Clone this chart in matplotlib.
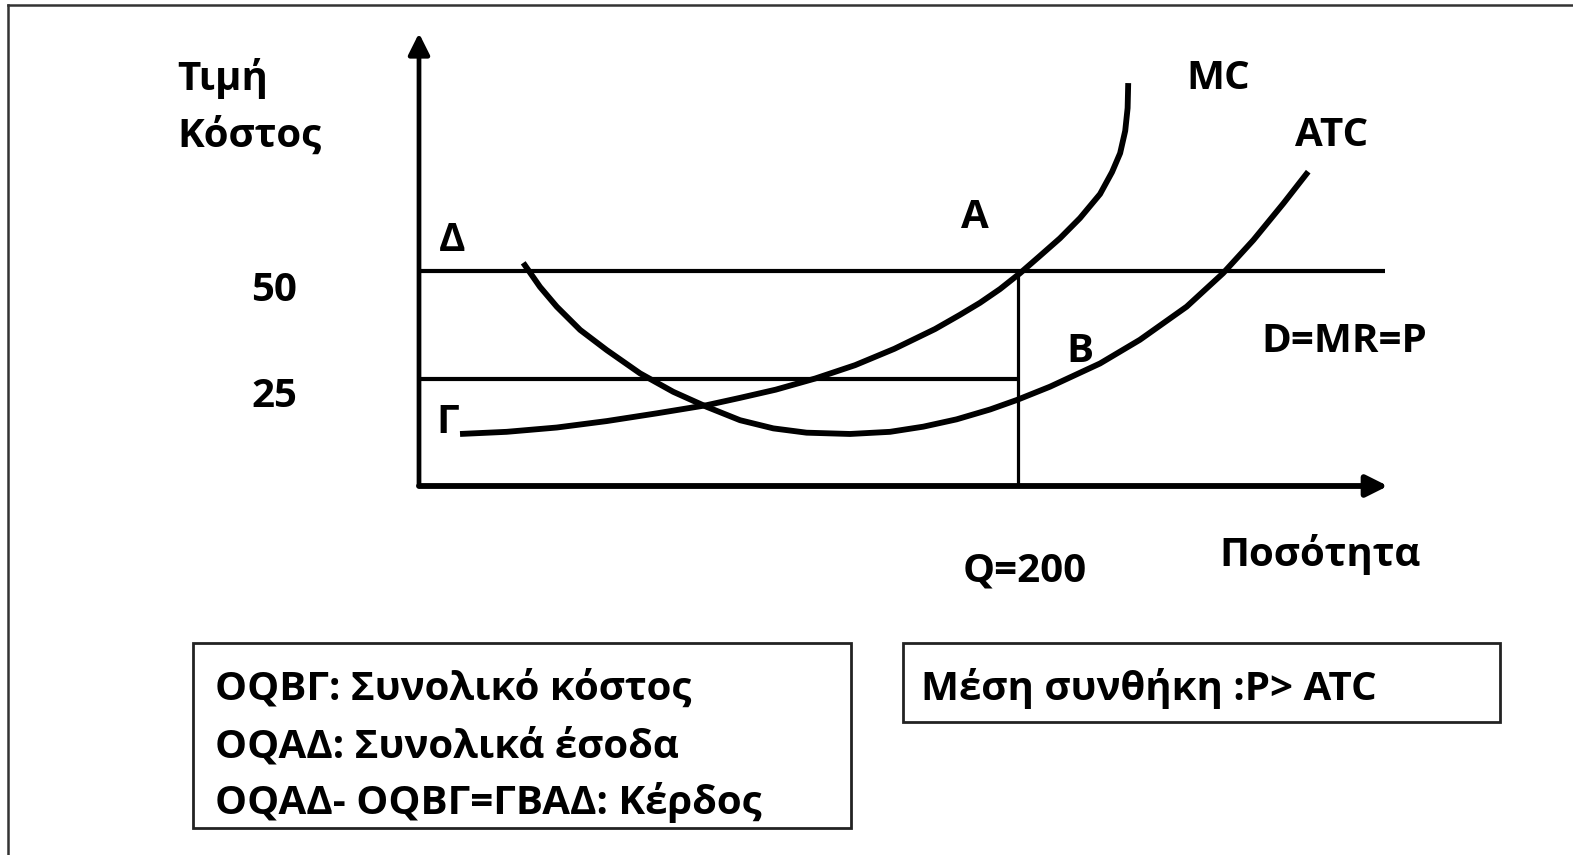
import matplotlib.pyplot as plt
from matplotlib.patches import Rectangle

# ποσότητα και κόστος όπως διαβάζονται από το σχήμα
mc_q = [13.7, 29.3, 46.0, 62.7, 79.4, 96.1, 107.2, 119.1, 132.3, 145.6, 158.7, 172.3, 180.6,
        187.3, 194.0, 200.7, 207.3, 214.0, 220.7, 227.4, 231.4, 234.1, 235.8, 236.6, 236.8]
mc_p = [12.1, 12.6, 13.6, 15.1, 16.9, 18.8, 20.5, 22.4, 25.0, 28.1, 31.9, 36.5, 39.8,
        42.6, 45.8, 49.5, 53.5, 57.6, 62.3, 67.9, 73.0, 77.4, 82.6, 87.9, 93.7]

atc_q = [34.8, 40.4, 46.0, 53.8, 62.7, 73.8, 84.9, 96.1, 107.2, 118.3, 129.4, 143.9, 157.3,
         168.4, 179.5, 190.7, 199.6, 210.7, 227.4, 240.7, 256.3, 268.5, 278.6, 288.6, 296.9]
atc_p = [51.9, 46.3, 41.7, 36.3, 31.6, 26.2, 21.9, 18.4, 15.3, 13.4, 12.4, 12.1, 12.6,
         13.8, 15.5, 17.8, 20.0, 23.1, 28.5, 34.0, 41.7, 49.5, 57.2, 65.7, 73.1]

price = 50
cost = 25
q_star = 200
q_max = 323.5
p_max = 105.3

font = ['Open Sans', 'DejaVu Sans']
fs = 29

fig = plt.figure(figsize=(15.73, 8.55), dpi=100)

# κύριοι άξονες: αρχή των αξόνων στο (419, 486) px
ax = fig.add_axes([0, 0, 1, 1])
ax.set_xlim(-419 / 2.995, (1573 - 419) / 2.995)
ax.set_ylim(-(855 - 486) / 4.3, 486 / 4.3)
ax.axis('off')

ax.annotate('', xy=(0, p_max), xytext=(0, 0),
            arrowprops=dict(arrowstyle='-|>', color='black', lw=3.4, mutation_scale=32,
                            shrinkA=0, shrinkB=0))
ax.annotate('', xy=(q_max, 0), xytext=(0, 0),
            arrowprops=dict(arrowstyle='-|>', color='black', lw=4.2, mutation_scale=32,
                            shrinkA=0, shrinkB=0))

ax.plot([0, q_max - 1], [price, price], color='black', lw=3, solid_capstyle='butt')
ax.plot([0, q_star], [cost, cost], color='black', lw=3, solid_capstyle='butt')
ax.plot([q_star, q_star], [0, price], color='black', lw=2.3, solid_capstyle='butt')

ax.plot(mc_q, mc_p, color='black', lw=4.2, solid_capstyle='butt', solid_joinstyle='round')
ax.plot(atc_q, atc_p, color='black', lw=4.2, solid_capstyle='butt', solid_joinstyle='round')

# επικάλυψη σε pixel για κείμενα και πλαίσια
lay = fig.add_axes([0, 0, 1, 1])
lay.set_xlim(0, 1573)
lay.set_ylim(855, 0)
lay.axis('off')
lay.patch.set_alpha(0)

lay.plot([8, 1573], [5, 5], color='#333333', lw=1.8)
lay.plot([8, 8], [5, 855], color='#333333', lw=1.8)


def label(x, y, s, ha='center'):
    lay.text(x, y, s, ha=ha, va='baseline', fontsize=fs, fontweight='bold', family=font)


label(177, 90, 'Τιμή', ha='left')
label(177, 147, 'Κόστος', ha='left')
label(274, 301, '50')
label(274, 407, '25')
label(452, 251, 'Δ')
label(448, 433, 'Γ')
label(975, 228, 'A')
label(1080, 362, 'B')
label(1218, 89, 'MC')
label(1332, 146, 'ATC')
label(1344, 352, 'D=MR=P')
label(1025, 581, 'Q=200')
label(1320, 566, 'Ποσότητα')

lay.add_patch(Rectangle((193, 643), 658, 185, fill=False, ec='#222222', lw=2))
lay.add_patch(Rectangle((903, 643), 597, 79, fill=False, ec='#222222', lw=2))

label(215, 700, 'OQBΓ: Συνολικό κόστος', ha='left')
label(215, 757, 'OQAΔ: Συνολικά έσοδα', ha='left')
label(215, 814, 'OQAΔ- OQBΓ=ΓBAΔ: Κέρδος', ha='left')
label(921, 700, 'Μέση συνθήκη :P> ATC', ha='left')

plt.savefig('out.png', dpi=100)
